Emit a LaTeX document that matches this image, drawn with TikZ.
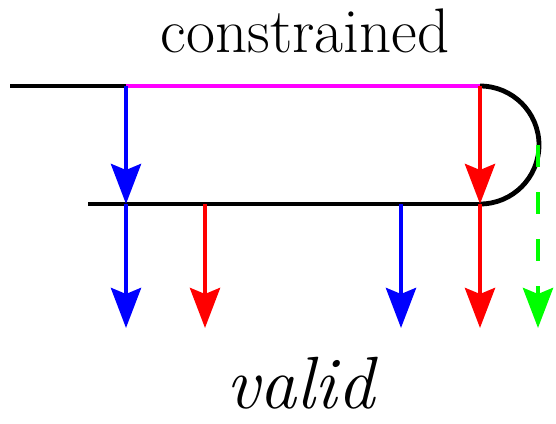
\documentclass[tikz,border=0pt]{standalone}
\usetikzlibrary{arrows.meta}
\definecolor{pblue}{RGB}{0,0,255}
\definecolor{pred}{RGB}{255,0,0}
\definecolor{pmag}{RGB}{255,0,255}
\definecolor{pgreen}{RGB}{0,255,0}
\begin{document}
\begin{tikzpicture}[x=1pt,y=-1pt,
  wire/.style={line width=4.8pt},
  arr/.style={line width=4.6pt,-{Stealth[length=40pt,width=30pt,inset=6pt]}},
  lbl/.style={inner sep=0pt,anchor=base}]
\useasboundingbox (0,0) rectangle (556,423);
% coordinates
\coordinate (L1) at (10,86);
\coordinate (A) at (126,86);
\coordinate (B) at (480,86);
\coordinate (L2) at (88,204);
\coordinate (P1) at (126,204);
\coordinate (P2) at (205,204);
\coordinate (P3) at (401,204);
\coordinate (C) at (480,204);
\coordinate (Q1) at (126,328);
\coordinate (Q2) at (205,328);
\coordinate (Q3) at (401,328);
\coordinate (Q4) at (480,328);
\coordinate (G1) at (538,145);
\coordinate (G2) at (538,328);
% lines
\draw[wire] (L1) -- (A);
\draw[wire,pmag] (A) -- (B);
\draw[wire] (B) arc[start angle=-90,end angle=90,radius=59];
\draw[wire] (L2) -- (C);
% arrows
\draw[arr,pgreen,dash pattern=on 22pt off 25pt] (G1) -- (G2);
\draw[arr,pblue] (A) -- (P1);
\draw[arr,pred] (B) -- (C);
\draw[arr,pblue] (P1) -- (Q1);
\draw[arr,pred] (P2) -- (Q2);
\draw[arr,pblue] (P3) -- (Q3);
\draw[arr,pred] (C) -- (Q4);
% labels
\node[lbl,font=\fontsize{63}{70}\selectfont] (t1) at (305,52) {constrained};
\node[lbl,font=\fontsize{74}{80}\selectfont\itshape] (t2) at (300,408) {valid};
\end{tikzpicture}
\end{document}
